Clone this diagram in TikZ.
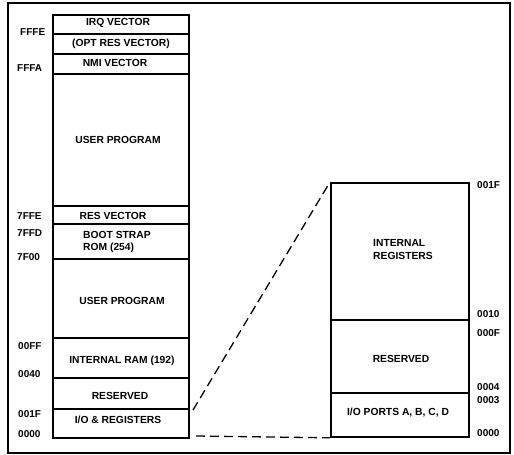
\documentclass[tikz,border=0pt]{standalone}
\usepackage{fontspec}
\setmainfont{Liberation Sans}
\begin{document}
\begin{tikzpicture}[x=1pt,y=-1pt,
  lab/.style={font=\fontsize{10.3}{12.5}\selectfont\bfseries, inner sep=0},
  lablft/.style={lab, anchor=west, align=left},
  addr/.style={font=\fontsize{10}{11}\selectfont\bfseries, inner sep=0, anchor=west},
  col/.style={draw, line width=1.8pt, inner sep=0, anchor=north west},
  div/.style={line width=1.3pt},
  conn/.style={dash pattern=on 9pt off 5pt, line width=1.3pt}]
\useasboundingbox (0,0) rectangle (514,455);
\draw[line width=1.1pt] (8,3) rectangle (510,453);
% left memory map
\node[col, minimum width=136pt, minimum height=423pt] (mem) at (52,14) {};
\foreach \yy in {34,54,74,206,224,259,338,378,409}
  \draw[div] (mem.west |- 0,\yy) -- (mem.east |- 0,\yy);
\node[lab] (irq) at (118,23) {IRQ VECTOR};
\node[lab] (opt) at (121,43.5) {(OPT RES VECTOR)};
\node[lab] (nmi) at (115,63) {NMI VECTOR};
\node[lab] (up1) at (118,140) {USER PROGRAM};
\node[lab] (res) at (113,216) {RES VECTOR};
\node[lablft] (boot) at (83,242) {BOOT STRAP\\ROM (254)};
\node[lab] (up2) at (122,301) {USER PROGRAM};
\node[lab] (ram) at (122,361) {INTERNAL RAM (192)};
\node[lab] (rsv) at (120,396) {RESERVED};
\node[lab] (io) at (118,420) {I/O \& REGISTERS};
\node[addr] (aFFFE) at (20,32) {FFFE};
\node[addr] (aFFFA) at (17,68) {FFFA};
\node[addr] (a7FFE) at (17,216) {7FFE};
\node[addr] (a7FFD) at (17,233) {7FFD};
\node[addr] (a7F00) at (17,257) {7F00};
\node[addr] (a00FF) at (18,346) {00FF};
\node[addr] (a0040) at (18,374) {0040};
\node[addr] (a001F) at (18,414) {001F};
\node[addr] (a0000) at (18,434) {0000};
% right expansion
\node[col, minimum width=138pt, minimum height=254pt] (regs) at (330,182) {};
\foreach \yy in {320,393}
  \draw[div] (regs.west |- 0,\yy) -- (regs.east |- 0,\yy);
\node[lablft] (ireg) at (373,249.5) {INTERNAL\\REGISTERS};
\node[lab] (rrsv) at (401,359) {RESERVED};
\node[lab] (ports) at (398,413) {I/O PORTS A, B, C, D};
\node[addr] (b001F) at (477,185) {001F};
\node[addr] (b0010) at (477,314) {0010};
\node[addr] (b000F) at (477,333) {000F};
\node[addr] (b0004) at (477,387) {0004};
\node[addr] (b0003) at (477,400) {0003};
\node[addr] (b0000) at (477,433) {0000};
% connectors
\coordinate (c1) at (193,410);
\coordinate (c2) at (196,436);
\draw[conn] (c1) -- (regs.north west);
\draw[conn] (c2) -- (regs.south west);
\end{tikzpicture}
\end{document}
